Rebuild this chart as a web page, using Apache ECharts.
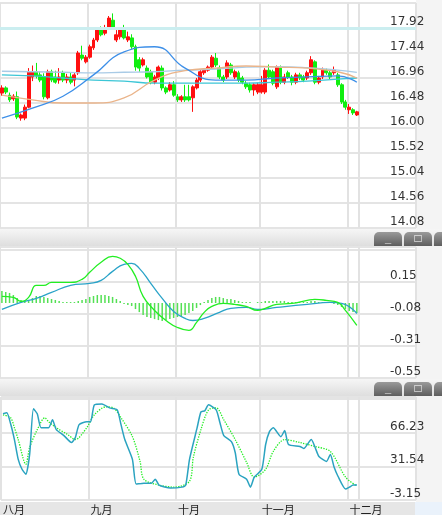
<!DOCTYPE html>
<html>
<head>
<meta charset="utf-8">
<script src="https://cdn.jsdelivr.net/npm/echarts@6/dist/echarts.min.js"></script>
<style>
  html, body { margin: 0; padding: 0; background: #fff; }
  #chart { width: 442px; height: 515px; }
</style>
</head>
<body>
<div id="chart"></div>
<script>
// candles: [open, close, low, high]
var candles = [
  [16.67,16.77,16.62,16.82],[16.77,16.69,16.65,16.80],[16.63,16.54,16.50,16.68],[16.56,16.61,16.52,16.65],
  [16.60,16.21,16.17,16.70],[16.19,16.25,16.14,16.28],[16.19,16.40,16.15,16.45],[16.40,17.08,16.38,17.15],
  [16.98,17.08,16.90,17.20],[17.08,17.00,16.95,17.25],[17.02,16.92,16.88,17.08],[16.98,16.60,16.55,17.05],
  [16.58,17.08,16.55,17.12],[17.08,16.92,16.88,17.12],[16.98,16.88,16.85,17.10],[16.92,16.98,16.85,17.15],
  [17.06,16.92,16.88,17.10],[16.92,16.98,16.86,17.04],[16.98,16.88,16.84,17.06],[16.92,17.02,16.80,17.06],
  [17.06,17.44,17.02,17.48],[17.40,17.34,17.30,17.58],[17.27,17.36,17.24,17.40],[17.36,17.56,17.33,17.60],
  [17.54,17.69,17.50,17.73],[17.69,17.88,17.65,17.92],[17.88,17.79,17.76,17.95],[17.82,17.88,17.78,17.98],
  [17.92,18.11,17.90,18.15],[18.07,17.94,17.90,18.20],[17.69,17.79,17.65,17.88],[17.75,17.88,17.70,17.92],
  [17.92,17.73,17.70,17.98],[17.69,17.75,17.65,17.85],[17.73,17.56,17.52,17.80],[17.56,17.17,17.10,17.60],
  [17.31,17.15,17.08,17.36],[17.21,17.31,17.18,17.35],[17.15,16.98,16.95,17.20],[17.08,16.88,16.84,17.12],
  [16.88,16.98,16.84,17.02],[16.96,17.17,16.92,17.20],[17.15,16.77,16.72,17.20],[16.77,16.69,16.65,16.80],
  [16.73,16.83,16.70,16.88],[16.83,16.63,16.60,16.90],[16.60,16.54,16.50,16.65],[16.54,16.60,16.50,16.63],
  [16.60,16.54,16.50,16.83],[16.60,16.54,16.51,16.83],[16.58,16.79,16.31,16.82],[16.77,16.92,16.74,16.96],
  [16.92,17.08,16.88,17.12],[17.06,17.11,17.02,17.15],[17.11,17.17,17.08,17.20],[17.17,17.36,17.14,17.40],
  [17.34,17.21,17.17,17.44],[17.15,16.98,16.94,17.20],[16.98,16.92,16.88,17.02],[16.98,17.25,16.94,17.30],
  [17.21,17.06,17.02,17.25],[16.98,17.08,16.94,17.12],[17.06,16.92,16.88,17.10],[16.96,16.88,16.84,17.00],
  [16.86,16.79,16.75,16.90],[16.83,16.73,16.68,16.87],[16.73,16.83,16.62,16.86],[16.69,16.83,16.65,16.87],
  [16.69,16.83,16.66,17.00],[16.69,17.11,16.65,17.15],[17.11,16.98,16.94,17.22],[17.08,16.86,16.82,17.12],
  [16.79,17.17,16.75,17.20],[17.15,16.88,16.84,17.20],[16.88,16.98,16.84,17.04],[17.06,16.98,16.94,17.10],
  [16.98,16.88,16.82,17.02],[16.88,17.02,16.84,17.06],[17.02,16.96,16.92,17.06],[16.98,16.92,16.88,17.02],
  [16.96,17.06,16.92,17.10],[17.06,17.31,17.02,17.38],[17.27,16.88,16.84,17.30],[16.88,16.96,16.84,17.00],
  [16.98,17.11,16.94,17.16],[17.11,17.06,17.02,17.14],[17.06,16.98,16.94,17.10],[17.06,17.11,17.02,17.18],
  [17.02,16.83,16.79,17.06],[16.83,16.50,16.46,16.86],[16.50,16.40,16.35,16.54],[16.35,16.40,16.27,16.46],
  [16.35,16.29,16.25,16.38],[16.25,16.31,16.23,16.33]
];
var maIdx = [0, 8, 16, 24, 32, 40, 48, 56, 64, 72, 80, 88, 93];
var maBlue   = [16.19,16.38,16.61,17.02,17.46,17.56,17.15,16.92,16.92,16.96,16.98,17.00,16.88];
var maLight  = [17.09,17.08,17.07,17.06,17.07,17.08,17.11,17.13,17.17,17.18,17.16,17.11,17.07];
var maTeal   = [17.02,17.00,16.96,16.92,16.90,16.86,16.86,16.86,16.86,16.88,16.90,16.94,16.96];
var maOrange = [16.63,16.54,16.48,16.48,16.58,16.92,17.10,17.15,17.19,17.17,17.15,17.08,16.96];

var macdBar = [
  0.088,0.080,0.073,0.058,0.036,0.022,0.015,0.022,0.036,0.051,0.051,0.044,0.036,0.029,0.022,0.015,
  0.007,0.007,0.007,0.007,0.015,0.022,0.029,0.044,0.051,0.058,0.058,0.058,0.051,0.044,0.029,0.015,
  -0.007,-0.015,-0.022,-0.044,-0.066,-0.088,-0.102,-0.109,-0.117,-0.124,-0.131,-0.124,-0.117,-0.109,
  -0.102,-0.095,-0.088,-0.073,-0.058,-0.036,-0.015,0.007,0.022,0.036,0.044,0.044,0.036,0.029,0.029,
  0.022,0.015,0.007,0.007,0.007,0,0.007,0.007,0.015,0.015,0.015,0.015,0.015,0.015,0.007,0.007,0.007,
  0.007,0.007,0.007,0.015,0.015,0.007,0.007,0.007,0,-0.007,-0.015,-0.029,-0.044,-0.058,-0.066,-0.073
];
var difPts = [[0,0.048],[3,0.041],[5,0.012],[7,0.041],[9,0.128],[11,0.128],[13,0.150],[18,0.150],[21,0.172],
  [23,0.223],[26,0.296],[29,0.339],[31,0.325],[33,0.281],[35,0.194],[37,0.048],[40,-0.054],[43,-0.127],
  [46,-0.178],[49,-0.199],[51,-0.141],[53,-0.068],[55,-0.025],[58,-0.003],[61,-0.010],[64,-0.025],
  [67,-0.054],[69,-0.039],[72,-0.010],[76,-0.003],[80,0.019],[82,0.026],[85,0.019],[88,0.004],[90,-0.054],[93,-0.163]];
var deaPts = [[0,-0.047],[5,0.004],[9,0.034],[13,0.077],[18,0.128],[23,0.143],[26,0.165],[29,0.230],[32,0.281],
  [34,0.288],[36,0.252],[39,0.143],[42,0.034],[45,-0.061],[48,-0.112],[50,-0.127],[53,-0.112],[57,-0.068],
  [60,-0.039],[64,-0.032],[67,-0.047],[72,-0.032],[80,-0.010],[86,0.004],[89,-0.003],[93,-0.076]];
var kPts = [[0,85.6],[1,86.6],[2,75.4],[3,59.1],[4,38.7],[5,28.5],[6,23.4],[7,43.8],[8,90.7],[9,85.6],[10,71.3],
  [12,71.3],[13,79.5],[14,69.3],[16,63.2],[18,56.0],[19,61.1],[20,74.4],[22,77.4],[23,77.4],[24,94.8],[26,95.8],
  [28,91.7],[30,89.7],[31,74.4],[32,59.1],[34,38.7],[35,13.2],[37,14.2],[39,14.2],[40,18.3],[41,12.2],[44,9.1],
  [47,10.1],[48,12.2],[49,38.7],[51,71.3],[52,87.6],[53,88.6],[54,94.8],[56,89.7],[57,76.4],[58,63.2],[60,57.0],
  [61,45.8],[62,23.4],[64,18.3],[65,10.1],[66,20.3],[68,28.5],[69,54.0],[70,67.2],[71,71.3],[73,62.1],[74,68.3],
  [75,54.0],[78,52.0],[79,49.9],[81,59.1],[82,50.9],[83,41.7],[85,36.6],[86,43.8],[87,30.5],[88,21.3],[90,8.1],
  [91,10.1],[92,12.2],[93,12.2]];
var dPts = [[0,84.6],[2,81.5],[3,71.3],[4,59.1],[6,33.6],[7,50.9],[9,69.3],[11,81.5],[12,77.4],[14,71.3],[17,64.2],
  [19,59.1],[22,71.3],[24,84.6],[27,92.7],[29,91.7],[31,81.5],[34,62.1],[36,36.6],[37,18.3],[41,12.2],[45,10.1],
  [49,16.2],[50,40.7],[52,69.3],[54,89.7],[56,91.7],[58,79.5],[61,59.1],[64,35.6],[66,20.3],[69,28.5],[71,46.8],
  [74,59.1],[78,56.0],[82,51.9],[86,46.8],[90,20.3],[93,11.1]];

var monthIdx = [0, 23, 46, 68, 91];
var monthNames = ['八月', '九月', '十月', '十一月', '十二月'];
var splitIdx = [0, 23, 46, 68, 91, 94];
var macdTicks = ['-0.55', '-0.31', '-0.08', '0.15'];
var catCount = 109;

var cats = [];
for (var i = 0; i < catCount; i++) cats.push(String(i));
var maPairs = function (vals) {
    return maIdx.map(function (ix, k) { return [ix, vals[k]]; });
};

var chart = echarts.init(document.getElementById('chart'));
var gridLine = { show: true, lineStyle: { color: '#e4e4e4', width: 2 } };
var labelStyle = { color: '#333', fontSize: 12, fontFamily: 'DejaVu Sans', verticalAlign: 'bottom', align: 'left', margin: -26 };

var xAxis = [0, 1, 2].map(function (g) {
    return {
        type: 'category', gridIndex: g, data: cats, boundaryGap: true,
        axisLine: { show: false }, axisTick: { show: false },
        axisLabel: g === 2 ? {
            show: true, align: 'left', margin: 4, fontSize: 11, color: '#222', fontFamily: 'Noto Sans CJK SC',
            interval: function (ix) { return monthIdx.indexOf(ix) >= 0; },
            formatter: function (v, ix) { var m = monthIdx.indexOf(ix); return m >= 0 ? monthNames[m] : ''; }
        } : { show: false },
        splitLine: {
            show: true, lineStyle: { color: '#e2e2e2', width: 2 },
            interval: function (ix) { return splitIdx.indexOf(ix) >= 0; }
        }
    };
});

function bar(y) {
    var els = [
        { type: 'rect', shape: { x: 0, y: y, width: 442, height: 17 },
          style: { fill: new echarts.graphic.LinearGradient(0, 0, 0, 1, [{ offset: 0, color: '#f6f6f6' }, { offset: 1, color: '#dedede' }]) } }
    ];
    [[374, 28, '_'], [404, 28, '□'], [434, 20, '']].forEach(function (b) {
        els.push({ type: 'rect', shape: { x: b[0], y: y + 3, width: b[1], height: 14, r: [5, 5, 0, 0] },
            style: { fill: new echarts.graphic.LinearGradient(0, 0, 0, 1, [{ offset: 0, color: '#9a9a9a' }, { offset: 1, color: '#5e5e5e' }]) } });
        if (b[2]) els.push({ type: 'text', x: b[0] + b[1] / 2, y: y + 10,
            style: { text: b[2], fill: '#fff', fontSize: b[2] === '_' ? 11 : 12, align: 'center', verticalAlign: 'middle', fontWeight: 'bold' } });
    });
    return els;
}

var option = {
    animation: false,
    backgroundColor: '#fff',
    grid: [
        { left: 0, right: 26, top: 3, height: 225 },
        { left: 0, right: 26, top: 247, height: 131 },
        { left: 0, right: 26, top: 397, height: 104 }
    ],
    xAxis: xAxis,
    yAxis: [
        { type: 'value', gridIndex: 0, position: 'right', min: 14.08, max: 18.40, interval: 0.48,
          axisLine: { show: false }, axisTick: { show: false }, splitLine: gridLine,
          axisLabel: Object.assign({}, labelStyle, { formatter: function (v) { return v > 18 ? '' : v.toFixed(2); } }) },
        { type: 'value', gridIndex: 1, position: 'right', min: -0.545, max: 0.407, interval: 0.2325,
          axisLine: { show: false }, axisTick: { show: false }, splitLine: gridLine,
          axisLabel: Object.assign({}, labelStyle, { formatter: function (v) {
              var k = Math.round((v + 0.545) / 0.2325); return macdTicks[k] || ''; } }) },
        { type: 'value', gridIndex: 2, position: 'right', min: -3.15, max: 102.9, interval: 34.69,
          axisLine: { show: false }, axisTick: { show: false }, splitLine: gridLine,
          axisLabel: Object.assign({}, labelStyle, { formatter: function (v) { return v > 100 ? '' : v.toFixed(2); } }) }
    ],
    series: [
        { type: 'candlestick', data: candles, barWidth: 3.4,
          itemStyle: { color: '#ff1010', color0: '#10ee10', borderColor: '#ff1010', borderColor0: '#10ee10', borderWidth: 1 },
          markLine: { silent: true, symbol: 'none', label: { show: false },
              lineStyle: { color: '#cbeef0', width: 3, type: 'solid' }, data: [{ yAxis: 17.92 }] } },
        { type: 'line', data: maPairs(maLight), smooth: true, showSymbol: false, lineStyle: { color: '#a9cbe6', width: 1.3 } },
        { type: 'line', data: maPairs(maTeal), smooth: true, showSymbol: false, lineStyle: { color: '#3cc6d6', width: 1.3 } },
        { type: 'line', data: maPairs(maOrange), smooth: true, showSymbol: false, lineStyle: { color: '#eab48a', width: 1.3 } },
        { type: 'line', data: maPairs(maBlue), smooth: true, showSymbol: false, lineStyle: { color: '#3d8fe8', width: 1.3 } },
        { type: 'bar', xAxisIndex: 1, yAxisIndex: 1, data: macdBar, barWidth: 1.5, itemStyle: { color: '#55e055' } },
        { type: 'line', xAxisIndex: 1, yAxisIndex: 1, data: deaPts, smooth: true, showSymbol: false, lineStyle: { color: '#2aa3c8', width: 1.3 } },
        { type: 'line', xAxisIndex: 1, yAxisIndex: 1, data: difPts, smooth: true, showSymbol: false, lineStyle: { color: '#22ee22', width: 1.3 } },
        { type: 'line', xAxisIndex: 2, yAxisIndex: 2, data: dPts, smooth: 0.3, showSymbol: false, lineStyle: { color: '#22ee22', width: 1.3, type: 'dotted' } },
        { type: 'line', xAxisIndex: 2, yAxisIndex: 2, data: kPts, smooth: 0.2, showSymbol: false, lineStyle: { color: '#2aa3c0', width: 1.5 } }
    ],
    graphic: [
        { type: 'group', z: -1, silent: true, children: [
            { type: 'rect', shape: { x: 416, y: 0, width: 26, height: 502 }, style: { fill: '#f4f4f4' } },
            { type: 'rect', shape: { x: 0, y: 502, width: 415, height: 13 }, style: { fill: '#e6e6e6' } },
            { type: 'rect', shape: { x: 415, y: 502, width: 27, height: 13 }, style: { fill: '#eaf2fb' } }
        ] },
        { type: 'group', z: 100, silent: true, children: bar(229).concat(bar(379)) }
    ]
};
chart.setOption(option);
</script>
</body>
</html>
